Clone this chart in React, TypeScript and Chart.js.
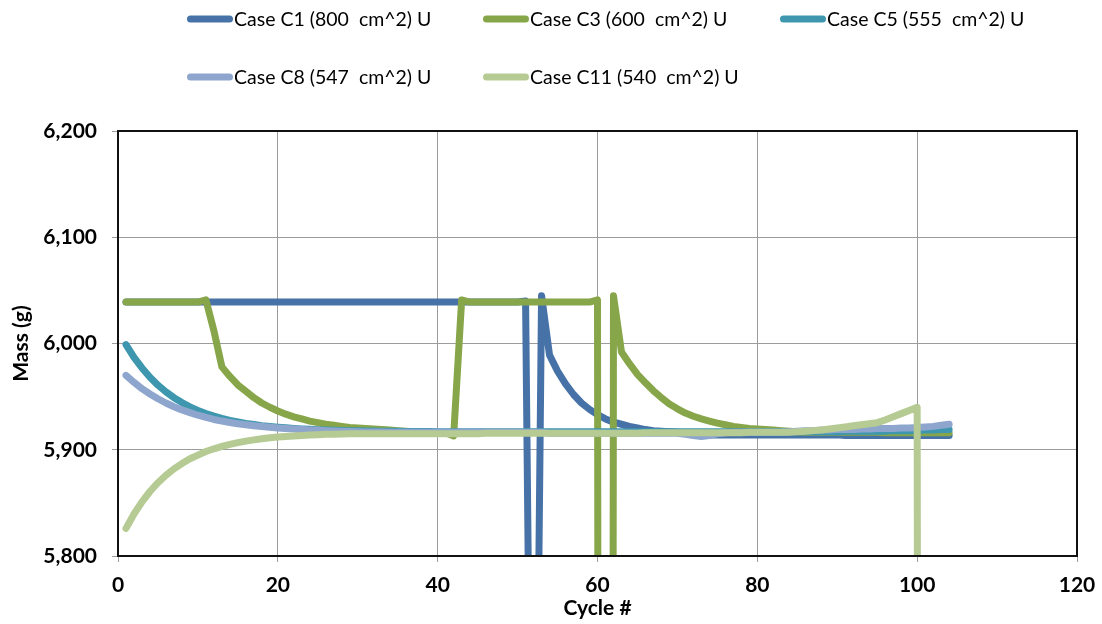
import { useEffect, useRef } from 'react';
import { Chart, registerables } from 'chart.js';

Chart.register(...registerables);

// Cycle numbers shared by every series
const cycles = [
  1, 2, 3, 4, 5, 6, 7, 8, 9, 10, 11, 12, 13, 14, 15, 16, 17, 18, 19, 20,
  21, 22, 23, 24, 25, 26, 27, 28, 29, 30, 31, 32, 33, 34, 35, 36, 37, 38, 39, 40,
  41, 42, 43, 44, 45, 46, 47, 48, 49, 50, 51, 52, 53, 54, 55, 56, 57, 58, 59, 60,
  61, 62, 63, 64, 65, 66, 67, 68, 69, 70, 71, 72, 73, 74, 75, 76, 77, 78, 79, 80,
  81, 82, 83, 84, 85, 86, 87, 88, 89, 90, 91, 92, 93, 94, 95, 96, 97, 98, 99, 100,
  101, 102, 103, 104,
];

const seriesNames = [
  'Case C1 (800  cm^2) U',
  'Case C3 (600  cm^2) U',
  'Case C5 (555  cm^2) U',
  'Case C8 (547  cm^2) U',
  'Case C11 (540  cm^2) U',
];

const seriesColors = ['#4672A8', '#87A64A', '#3E97AF', '#8EA6CD', '#B5CB93'];

// Mass (g) per cycle
const massC1 = [
  6039, 6039, 6039, 6039, 6039, 6039, 6039, 6039, 6039, 6039,
  6039, 6039, 6039, 6039, 6039, 6039, 6039, 6039, 6039, 6039,
  6039, 6039, 6039, 6039, 6039, 6039, 6039, 6039, 6039, 6039,
  6039, 6039, 6039, 6039, 6039, 6039, 6039, 6039, 6039, 6039,
  6039, 6039, 6039, 6039, 6039, 6039, 6039, 6039, 6039, 6039,
  6040, 5300, 6045, 5989, 5974, 5962, 5952, 5944, 5938, 5933,
  5929, 5926, 5924, 5922, 5920.5, 5919, 5918, 5917.5, 5917, 5916.5,
  5916, 5915.5, 5915,
  5914, 5914, 5914, 5914, 5914, 5914, 5914, 5914, 5914, 5914,
  5914, 5914, 5914, 5914, 5914, 5914, 5914,
  5913.5, 5913.5, 5913.5, 5913.5, 5913.5, 5913.5, 5913.5,
  5913.5, 5913.5, 5913.5, 5913.5, 5913.5, 5913.5, 5913.5,
];

const massC3 = [
  6039, 6039, 6039, 6039, 6039, 6039, 6039, 6039, 6039, 6039,
  6041, 6012, 5978, 5969, 5961, 5955, 5949, 5944, 5940, 5936.5,
  5933.5, 5931, 5929, 5927, 5925.5, 5924, 5923, 5922, 5921, 5920.5,
  5920, 5919.5, 5919, 5918.5, 5918, 5917.5, 5917, 5917, 5916.5, 5916,
  5916, 5913, 6041,
  6039, 6039, 6039, 6039, 6039, 6039, 6039, 6039,
  6039, 6039, 6039, 6039, 6039, 6039, 6039, 6039,
  6041, 0, 6045, 5992, 5981, 5971, 5963, 5955.5, 5949, 5943,
  5938.5, 5934.5, 5931.5, 5929, 5927, 5925, 5923.5, 5922, 5921, 5920,
  5919.5, 5919, 5918.5, 5918, 5917.5, 5917,
  5916.5, 5916.5, 5916.5, 5916.5, 5916.5, 5916.5, 5916.5, 5916.5, 5916.5, 5916.5,
  5916, 5916, 5916, 5916, 5916, 5916, 5916, 5916, 5916,
];

const massC5 = [
  5999, 5987, 5977, 5968.3, 5960.8, 5954.5, 5949, 5944.4, 5940.4, 5937,
  5934.1, 5931.6, 5929.5, 5927.7, 5926.2, 5924.8, 5923.7, 5922.7, 5921.9, 5921.2,
  5920.6, 5920.1, 5919.6, 5919.2, 5918.9, 5918.6, 5918.4,
  5918.2, 5918, 5917.8, 5917.7, 5917.6, 5917.5, 5917.4, 5917.3, 5917.2,
  5917.2, 5917.1, 5917.1,
  5917, 5917, 5917, 5917, 5917, 5917, 5917, 5917, 5917, 5917,
  5917, 5917, 5917, 5917, 5917, 5917, 5917, 5917, 5917, 5917,
  5917, 5917, 5917, 5917, 5917, 5917, 5917, 5917, 5917, 5917,
  5917, 5917, 5917, 5917, 5917, 5917, 5917, 5917, 5917, 5917,
  5917, 5917, 5917, 5917, 5917, 5917, 5917, 5917, 5917, 5917,
  5917, 5917.5, 5917.5, 5917.5, 5917.5, 5917.5, 5917.5,
  5918, 5918, 5918, 5918,
  5918.5, 5918.5, 5919, 5919,
];

const massC8 = [
  5970, 5963.5, 5957.5, 5952.5, 5948, 5944, 5940.5, 5937.5, 5935, 5932.5,
  5930.5, 5928.5, 5927, 5925.7, 5924.5, 5923.5, 5922.6, 5921.8, 5921.1, 5920.5,
  5920, 5919.5, 5919.1, 5918.7, 5918.3, 5918, 5917.7, 5917.4,
  5917.2, 5917, 5916.8, 5916.7, 5916.6, 5916.5, 5916.5, 5916.5, 5916.5, 5916.5,
  5916.5, 5916.5, 5916.5, 5916.5, 5916.5, 5916.5, 5916.5, 5916.5, 5916.5, 5916.5,
  5916.5, 5916.5, 5916.5, 5916.5, 5916.5,
  5915.5, 5915.5, 5915.5, 5915.5, 5915.5, 5915.5, 5915.5, 5915.5, 5915.5, 5915.5,
  5915.5, 5915.5, 5915.5, 5915.5, 5915.5, 5915.5, 5915.5,
  5914.5, 5913.5, 5912.5, 5913.5, 5915,
  5916, 5916.5, 5916.5, 5916.5, 5916.5, 5916.5, 5916.5, 5916.5, 5917,
  5917.5, 5918, 5918, 5918.5, 5918.5,
  5919, 5919, 5919, 5919.5, 5919.5,
  5920, 5920, 5920, 5920.5, 5920.5,
  5921, 5921.5, 5922, 5923, 5924,
];

const massC11 = [
  5826, 5839.5, 5851, 5860.7, 5869, 5876, 5882, 5887, 5891.5, 5895,
  5898.3, 5900.9, 5903.2, 5905.1, 5906.7, 5908.1, 5909.3, 5910.3, 5911.2, 5911.9,
  5912.5, 5913, 5913.5, 5913.9, 5914.2, 5914.5, 5914.7, 5914.9, 5915, 5915,
  5915, 5915, 5915, 5915, 5915, 5915, 5915, 5915, 5915, 5915,
  5915, 5915, 5915, 5915, 5915,
  5915.5, 5915.5, 5915.5, 5915.5, 5915.5, 5915.5, 5915.5, 5915.5, 5915.5, 5915.5,
  5915.5, 5915.5, 5915.5, 5915.5, 5915.5, 5915.5, 5915.5, 5915.5, 5915.5, 5915.5,
  5916, 5916, 5916, 5916, 5916, 5916, 5916, 5916, 5916, 5916,
  5916, 5916, 5916,
  5916.5, 5916.5, 5916.5, 5916.5, 5916.5, 5916.5,
  5917, 5917.5, 5918,
  5918.5, 5919.5, 5920.5, 5921.5, 5922.5, 5923.5, 5924.5, 5925.5, 5928, 5931,
  5934, 5937, 5940, 0,
];

const seriesValues = [massC1, massC3, massC5, massC8, massC11];

const FONT = 'Lato, "Noto Sans", sans-serif';
const LEGEND_COLUMNS = [187, 483, 780];
const LEGEND_ROWS = [19, 77];

// Two-row legend laid out in fixed columns above the plot
const caseLegend = {
  id: 'caseLegend',
  afterDraw(chart: Chart) {
    const ctx = chart.ctx;
    ctx.save();
    ctx.font = `19.5px ${FONT}`;
    ctx.textBaseline = 'middle';
    ctx.textAlign = 'left';
    chart.data.datasets.forEach((ds: any, i: number) => {
      const x = LEGEND_COLUMNS[i % 3];
      const y = LEGEND_ROWS[Math.floor(i / 3)];
      ctx.strokeStyle = ds.borderColor;
      ctx.lineWidth = 7;
      ctx.lineCap = 'round';
      ctx.beginPath();
      ctx.moveTo(x + 3.5, y);
      ctx.lineTo(x + 42.5, y);
      ctx.stroke();
      ctx.fillStyle = '#000';
      ctx.fillText(ds.label, x + 47, y + 1);
    });
    ctx.restore();
  },
};

// Dark frame around the plotting area
const plotFrame = {
  id: 'plotFrame',
  afterDraw(chart: Chart) {
    const { left, top, right, bottom } = chart.chartArea;
    const ctx = chart.ctx;
    ctx.save();
    ctx.strokeStyle = '#111';
    ctx.lineWidth = 2;
    ctx.strokeRect(left, top, right - left, bottom - top);
    ctx.restore();
  },
};

export default function App() {
  const canvasRef = useRef<HTMLCanvasElement | null>(null);

  useEffect(() => {
    const canvas = canvasRef.current;
    if (!canvas) return;

    const datasets = seriesValues.map((values, i) => ({
      label: seriesNames[i],
      data: values.map((v, j) => ({ x: cycles[j], y: v })),
      borderColor: seriesColors[i],
      backgroundColor: seriesColors[i],
      borderWidth: 7,
      borderCapStyle: 'round' as const,
      borderJoinStyle: 'round' as const,
      pointRadius: 0,
      tension: 0,
      fill: false,
      clip: 0,
      order: seriesValues.length - i,
    }));

    const chart = new Chart(canvas, {
      type: 'line',
      data: { datasets },
      plugins: [caseLegend, plotFrame],
      options: {
        animation: false,
        responsive: false,
        layout: { padding: { top: 131, right: 25, bottom: 0, left: 0 } },
        plugins: {
          legend: { display: false },
          tooltip: { enabled: false },
        },
        scales: {
          x: {
            type: 'linear',
            min: 0,
            max: 120,
            afterFit: (scale: any) => {
              scale.height = 68;
              scale.paddingRight = 0;
              scale.paddingLeft = 0;
            },
            ticks: {
              stepSize: 20,
              padding: 11,
              color: '#000',
              font: { family: FONT, size: 21, weight: 'bold' },
            },
            grid: { color: '#9c9c9c', lineWidth: 1, tickLength: 6 },
            border: { color: '#111', width: 2 },
            title: {
              display: true,
              text: 'Cycle #',
              color: '#000',
              font: { family: FONT, size: 21, weight: 'bold' },
              padding: { top: 0, bottom: 3 },
            },
          },
          y: {
            type: 'linear',
            min: 5800,
            max: 6200,
            afterFit: (scale: any) => {
              scale.width = 118;
            },
            ticks: {
              stepSize: 100,
              padding: 15,
              color: '#000',
              font: { family: FONT, size: 21, weight: 'bold' },
              callback: (v: any) => Number(v).toLocaleString('en-US'),
            },
            grid: { color: '#9c9c9c', lineWidth: 1, tickLength: 6 },
            border: { color: '#111', width: 2 },
            title: {
              display: true,
              text: 'Mass (g)',
              color: '#000',
              font: { family: FONT, size: 21, weight: 'bold' },
              padding: { top: 9, bottom: 0 },
            },
          },
        },
      },
    });

    return () => chart.destroy();
  }, []);

  return (
    <div style={{ position: 'absolute', left: 0, top: 0, width: 1102, height: 624, background: '#fff' }}>
      <canvas ref={canvasRef} width={1102} height={624} style={{ display: 'block' }} />
    </div>
  );
}
